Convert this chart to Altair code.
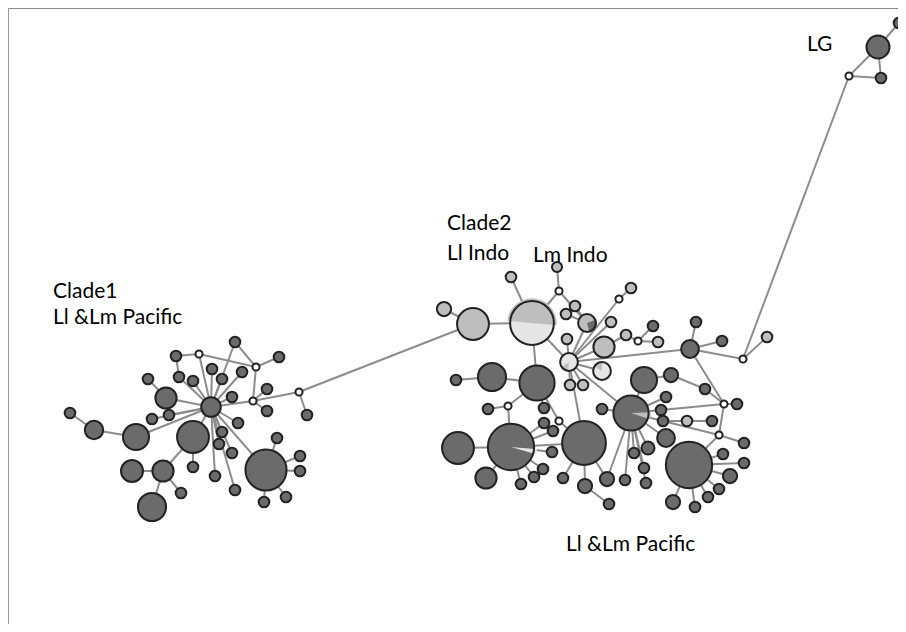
import altair as alt
import pandas as pd

# ---- haplotype nodes (layout coordinates, haplotype frequency, group shade) ----
node_id = ["a1","a2","a3","a4","a5","a6","a7","a8","a9","a10","a11","a12","h1","a13","a14","a15","a16","a17","a18",
           "b1","b7","b8","b9","b10","b11","b12","b13","b14","b15","b16","b17","b18","b19","b20","b21","b22","b23",
           "b24","b25","b26","b27","b28",
           "c1","c2","c3","c4","c5","c6","c7","c8","c9","c10","c11","c12","c13",
           "e1","e2","e3","e4","e5","e6","e7","e8","e9","f1","f2","f3","f4","f5","e10","e11","e12","e13",
           "d1","d2","d3","d4","d5",
           "g1","g2","g3","g4","g5","g6","g7","g8","g9","g10","g11","g12","g13","g14","g15","g16","g17","g18","g19",
           "g20","g21","g22","g23","g24","g25","g26","g27","g28","g29","f6","f7","f8","g30","g31","g32","g33","g34",
           "g35","g36","g37",
           "l1","l2","l3","l4"]
node_x = [70,94,136,166,148,152,169,176,199,179,193,212,211,193,132,163,181,152,193,
          235,222,242,256,279,232,267,253,267,299,307,238,222,219,232,215,235,266,
          277,300,300,286,264,
          444,473,532,511,559,557,575,566,587,567,569,570,583,
          619,631,611,604,602,626,638,653,658,690,696,722,743,767,644,671,705,666,
          456,492,537,508,488,
          458,511,584,631,689,544,559,544,553,552,543,534,521,486,563,585,607,625,609,
          602,634,648,644,646,666,661,663,687,712,724,737,719,744,744,723,730,719,
          708,695,673,
          849,878,899,881]
node_y = [413,430,437,398,379,419,415,356,354,377,381,369,407,437,471,471,493,507,467,
          342,379,372,367,357,397,389,401,411,392,415,423,432,444,453,476,490,470,
          438,456,471,497,502,
          309,324,323,277,291,267,306,314,323,339,362,385,385,
          299,288,322,347,371,335,341,326,342,349,322,341,359,337,380,375,389,397,
          380,377,383,406,409,
          448,447,443,413,465,408,421,423,431,452,469,477,484,478,478,486,479,480,504,
          409,453,448,468,483,438,410,421,421,421,404,404,435,443,463,454,476,489,
          497,507,502,
          76,47,23,78]
node_freq = [1,3,6,4,1,1,1,1,0.45,1,1,1,3.4,9,4.3,4,1,7,1,
             1,1,1,0.45,1,1,1,0.45,1,0.45,1,1,1,1,1,1,1,15,
             1,1,1,1,1,
             1.8,9,17,1,0.45,0.9,1,1,2.8,1,2.8,1,1,
             0.45,1,1,4,2.8,1,0.45,1,1,2.8,1,1,0.45,1,6,1.8,1,1,
             1,7,11,0.45,1,
             9,19,17,11,19,1,0.45,1,1,1,1,1,1,4,1,1.8,1.8,1,1,
             1,1,1.5,1,1,2.8,1,1,1,1,0.45,1,0.45,1,1,1,1.8,1,
             1,1,1.8,
             0.45,4.7,1,1]
node_kind = (["dark"]*8 + ["median"] + ["dark"]*10 +
             ["dark","dark","dark","median","dark","dark","dark","median","dark","median","dark","dark","dark","dark",
              "dark","dark","dark","dark","dark","dark","dark","dark","dark"] +
             ["light","light","pale","light","median","light","light","light","light","light","pale","light","light"] +
             ["median","light","light","light","pale","light","median","dark","light","dark","dark","dark","median",
              "light","dark","dark","dark","dark"] +
             ["dark","dark","dark","median","dark"] +
             ["dark","dark","dark","dark","dark","dark","median","dark","dark","dark","dark","dark","dark","dark","dark",
              "dark","dark","dark","dark"] +
             ["dark","dark","dark","dark","dark","dark","dark","dark","light","dark","median","dark","median","dark",
              "dark","dark","dark","dark","dark","dark","dark"] +
             ["median","dark","dark","dark"])

# ---- network links ----
edge_from = ["a1","a2","a3","a4","a5","a6","a7","a8","a8","a9","a9","a10","a11","a12","b1","b1","b7","b8","b9","b9",
             "b13","b13","b13","b13","b15","b15","b11","b17","b18","b19","b20","b21","b22","b23","h1","a13","a13",
             "a15","a15","a15","b23","b23","b23","b23","b23",
             "c1","c2","c3","c3","c5","c5","c9","c9","c11","c11","c11","c11","c11","c11","e1","c11","c11","e4","e6",
             "e7","e7","c11","c11","f1","f1","f1","f4","f4","l1","l1","l2","l2","f1","f6","f6",
             "d1","d2","d3","d4","d4","d3","d3","g7","g2","g2","g2","g2","g2","g2","g2","g2","g2","g2",
             "g3","g3","g16","g3","c11","g4","g4","g4","g4","g4","g4","g4","g4","g4","g4","g27","g28","g26",
             "e10","e10","e11","e12","f8","f8","g5","g5","g5","g5","g5","g5","g5","g4","g4","g5"]
edge_to = ["a2","a3","h1","h1","a4","h1","h1","a9","a10","h1","b9","h1","h1","h1","h1","b9","h1","h1","b10","b13",
           "h1","b12","b14","b15","b16","c2","h1","h1","h1","h1","h1","h1","h1","h1","a13","a15","a18",
           "a14","a16","a17","b24","b25","b26","b27","b28",
           "c2","c3","c4","c5","c6","c9","c7","c8","c9","c10","c3","c12","c13","e1","e2","e3","e4","e6","e7",
           "e8","e9","e5","f1","f2","f3","f4","f5","l1","l2","l4","l4","l3","f6","f7","f8",
           "d2","d3","c3","d5","d3","g6","g7","g3","d4","g1","g14","g13","g12","g11","g10","g9","g8","g3",
           "g15","g16","g19","g17","g3","g17","g18","g20","g21","g22","g23","g24","g25","e13","g26","g28","g29","f6",
           "g4","e11","e12","f6","g30","g27","g31","g32","g33","g34","g35","g36","g37","c11","g27","f8"]

# ---- pie slices (node, start deg, end deg, shade) ----
pie_node = ["c3","c9","c11","e5","g2","g4"]
pie_start = [275,70,185,300,95,88]
pie_end = [455,165,235,360,106,108]
pie_kind = ["light","dark","light","light","pale","light"]

# ---- labels ----
label_text = ["Clade1","Ll &Lm Pacific","Clade2","Ll Indo","Lm Indo","Ll &Lm Pacific","LG"]
label_x = [53,53,447,447,533,566,807]
label_y = [292,318,224,254,256,545,45]

nodes = pd.DataFrame({"id": node_id, "x": node_x, "y": node_y, "freq": node_freq, "kind": node_kind})
pos = nodes.set_index("id")
edges = pd.DataFrame({"s": edge_from, "t": edge_to})
edges["x"] = edges.s.map(pos.x); edges["y"] = edges.s.map(pos.y)
edges["x2"] = edges.t.map(pos.x); edges["y2"] = edges.t.map(pos.y)
pies = pd.DataFrame({"id": pie_node, "kind": pie_kind})
pies["x"] = pies.id.map(pos.x); pies["y"] = pies.id.map(pos.y); pies["freq"] = pies.id.map(pos.freq)
pies["t0"] = [d * 3.14159265 / 180 for d in pie_start]
pies["t1"] = [d * 3.14159265 / 180 for d in pie_end]
labels = pd.DataFrame({"text": label_text, "x": label_x, "y": label_y})

W, H = 890, 616
xs = alt.Scale(domain=[8, 898], nice=False, zero=False)
ys = alt.Scale(domain=[8, 624], nice=False, zero=False, reverse=True)
X = lambda f="x": alt.X(f"{f}:Q", scale=xs, axis=None)
Y = lambda f="y": alt.Y(f"{f}:Q", scale=ys, axis=None)
size_s = alt.Scale(type="linear", domain=[0, 20], range=[0, 2256])
rad_s = alt.Scale(type="sqrt", domain=[0, 20], range=[0, 26.8])
col_s = alt.Scale(domain=["dark", "light", "pale", "median"],
                  range=["#6b6b6b", "#bebebe", "#e6e6e6", "#ffffff"])

links = alt.Chart(edges).mark_rule(color="#8c8c8c", strokeWidth=2).encode(
    x=X(), y=Y(), x2="x2:Q", y2="y2:Q")
fills = alt.Chart(nodes).mark_circle(opacity=1).encode(
    x=X(), y=Y(), size=alt.Size("freq:Q", scale=size_s, legend=None),
    color=alt.Color("kind:N", scale=col_s, legend=None))
wedges = alt.Chart(pies).mark_arc(opacity=1).encode(
    x=X(), y=Y(),
    theta=alt.Theta("t0:Q", scale=None, stack=None), theta2="t1:Q",
    radius=alt.Radius("freq:Q", scale=rad_s),
    color=alt.Color("kind:N", scale=col_s, legend=None))
rims = alt.Chart(nodes).mark_point(shape="circle", filled=False, color="#222222", strokeWidth=2, opacity=1).encode(
    x=X(), y=Y(), size=alt.Size("freq:Q", scale=size_s, legend=None))
texts = alt.Chart(labels).mark_text(align="left", baseline="middle", font="Lato", fontSize=21, color="#000000").encode(
    x=X(), y=Y(), text="text:N")
frame_top = alt.Chart(labels).mark_rule(color="#8a8a8a", strokeWidth=2).encode(
    x=alt.value(0), x2=alt.value(W), y=alt.value(0))
frame_left = alt.Chart(labels).mark_rule(color="#9a9a9a", strokeWidth=1).encode(
    x=alt.value(0), y=alt.value(0), y2=alt.value(H))

chart = alt.layer(frame_top, frame_left, links, fills, wedges, rims, texts).properties(
    width=W, height=H, padding=0, autosize=alt.AutoSizeParams(type="none"),
    background="#ffffff").configure_view(stroke=None)

chart.save("out.html", embed_options={"renderer": "svg", "actions": False})
